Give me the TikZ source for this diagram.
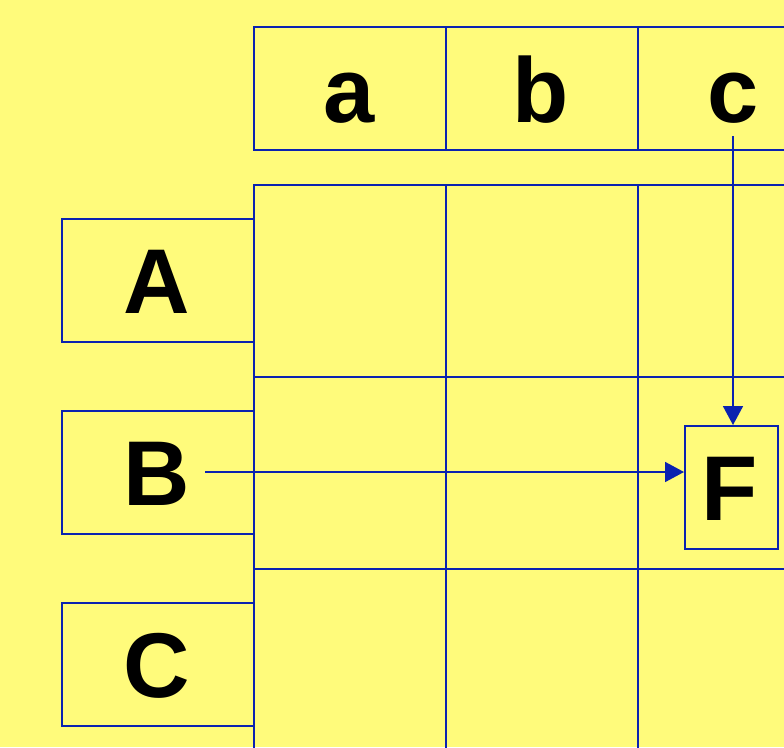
\documentclass[tikz,border=0pt]{standalone}
\usepackage{fontspec}
\setmainfont{Liberation Sans}
\usetikzlibrary{arrows.meta}
\definecolor{bgyellow}{HTML}{FFFB7B}
\definecolor{lineblue}{HTML}{0A22B0}
\tikzset{
  cellbox/.style={draw=lineblue, line width=1.8pt, minimum width=192pt, minimum height=192pt, inner sep=0pt, anchor=north west},
  headbox/.style={draw=lineblue, line width=1.8pt, minimum width=192pt, minimum height=123pt, inner sep=0pt, anchor=north west},
  fbox/.style={draw=lineblue, line width=1.8pt, minimum width=93pt, minimum height=123pt, inner sep=0pt, anchor=north west},
  lbl/.style={anchor=base, inner sep=0pt, font=\fontsize{92}{92}\selectfont\bfseries},
  conn/.style={draw=lineblue, line width=1.8pt, -{Triangle[length=19pt,width=20pt]}},
}
\begin{document}
\begin{tikzpicture}[x=1pt,y=-1pt]
\useasboundingbox[fill=bgyellow] (0,0) rectangle (784,747);
\begin{scope}
\clip (0,0) rectangle (784,747);
% header row
\node[headbox] (ha) at (253,26) {};
\node[headbox] (hb) at (445,26) {};
\node[headbox] (hc) at (637,26) {};
\node[lbl] (la) at (349,122) {a};
\node[lbl] (lb) at (541,122) {b};
\node[lbl] (lc) at (733,122) {c};
% grid
\foreach \c [count=\i] in {253,445,637}{
  \foreach \r [count=\j] in {184,376,568}{
    \node[cellbox] (g\i\j) at (\c,\r) {};
  }
}
% row labels
\node[headbox] (rA) at (61,218) {};
\node[headbox] (rB) at (61,410) {};
\node[headbox] (rC) at (61,602) {};
\node[lbl] (lA) at (157,313) {A};
\node[lbl] (lB) at (157,505) {B};
\node[lbl] (lC) at (157,697) {C};
% F box
\node[fbox] (F) at (684,425) {};
\node[lbl] (lF) at (730,520) {F};
% connectors
\coordinate (cstart) at (733,136);
\coordinate (bstart) at (205,472);
\draw[conn] (cstart) -- (cstart |- F.north);
\draw[conn] (bstart) -- (bstart -| F.west);
\end{scope}
\end{tikzpicture}
\end{document}
